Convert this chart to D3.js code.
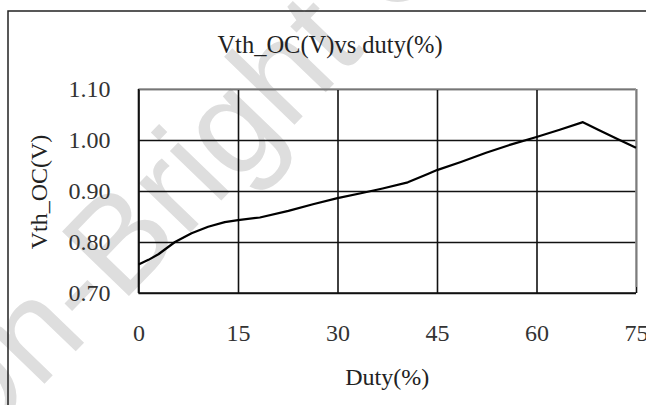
<!DOCTYPE html>
<html>
<head>
<meta charset="utf-8">
<script src="https://cdn.jsdelivr.net/npm/d3@7"></script>
<style>
  html, body { margin: 0; padding: 0; background: #fff; }
  svg { display: block; }
  text { font-family: "Liberation Serif", "Times New Roman", serif; fill: #222; }
</style>
</head>
<body>
<svg id="chart" width="646" height="405"></svg>
<script>
// ---- data ----
const duty = [0, 1.5, 3, 5.5, 8, 10.5, 13, 15, 18.3, 22.6, 26.3, 30, 33.7, 36.8, 40.6, 43.7, 45, 48.6, 52.4, 56.1, 60, 63.5, 67, 69.3, 72.2, 75];
const vth  = [0.756, 0.765, 0.776, 0.800, 0.817, 0.830, 0.839, 0.843, 0.848, 0.861, 0.874, 0.886, 0.896, 0.905, 0.917, 0.934, 0.941, 0.957, 0.975, 0.991, 1.006, 1.020, 1.035, 1.020, 1.002, 0.985];
const xTicks = [0, 15, 30, 45, 60, 75];
const yTicks = [0.70, 0.80, 0.90, 1.00, 1.10];
const titleText = "Vth_OC(V)vs duty(%)";
const xTitle = "Duty(%)";
const yTitle = "Vth_OC(V)";
const watermark = "On-Bright Confidential";

// ---- layout ----
const svg = d3.select("#chart");
const pL = 138.5, pR = 636, pT = 89, pB = 293;
const x = d3.scaleLinear().domain([0, 75]).range([pL, pR]);
const y = d3.scaleLinear().domain([0.7, 1.1]).range([pB, pT]);

// watermark (behind)
svg.append("text")
  .attr("transform", "translate(-35,466) rotate(-46)")
  .style("font-family", "'Liberation Sans', Arial, sans-serif")
  .style("font-size", "135px")
  .style("fill", "#dedede")
  .text(watermark);

// outer frame
svg.append("rect")
  .attr("x", 8).attr("y", 11)
  .attr("width", 700).attr("height", 500)
  .attr("fill", "none").attr("stroke", "#222").attr("stroke-width", 1.5);

// grid + axes
const yAxis = d3.axisLeft(y).tickValues(yTicks).tickFormat(d3.format(".2f"))
  .tickSize(-(pR - pL)).tickPadding(28);
const gy = svg.append("g").attr("transform", `translate(${pL},0)`).call(yAxis);
gy.select(".domain").remove();
gy.selectAll("line").attr("stroke", "#111").attr("stroke-width", 1.6);
gy.selectAll("text").style("font-size", "24px").style("fill", "#333")
  .attr("font-family", null);

const xAxis = d3.axisBottom(x).tickValues(xTicks).tickFormat(d3.format("d"))
  .tickSize(-(pB - pT)).tickPadding(31);
const gx = svg.append("g").attr("transform", `translate(0,${pB})`).call(xAxis);
gx.select(".domain").remove();
gx.selectAll("line").attr("stroke", "#111").attr("stroke-width", 1.6);
gx.selectAll("text").style("font-size", "24px").style("fill", "#333")
  .attr("font-family", null);

// top and right borders (gray), left and bottom (black)
svg.append("line").attr("x1", x(0)).attr("x2", x(75)).attr("y1", y(1.1)).attr("y2", y(1.1))
  .attr("stroke", "#999").attr("stroke-width", 1.6);
svg.append("line").attr("x1", x(75)).attr("x2", x(75)).attr("y1", y(1.1)).attr("y2", y(0.7) - 6)
  .attr("stroke", "#999").attr("stroke-width", 1.6);
svg.append("line").attr("x1", x(0)).attr("x2", x(75)).attr("y1", y(0.7)).attr("y2", y(0.7))
  .attr("stroke", "#111").attr("stroke-width", 1.6);
svg.append("line").attr("x1", x(0)).attr("x2", x(0)).attr("y1", y(1.1)).attr("y2", y(0.7))
  .attr("stroke", "#111").attr("stroke-width", 1.6);

// data line
const line = d3.line().x((d, i) => x(duty[i])).y((d, i) => y(vth[i])).curve(d3.curveLinear);
svg.append("path").datum(vth).attr("d", line)
  .attr("fill", "none").attr("stroke", "#000").attr("stroke-width", 2.2)
  .attr("stroke-linejoin", "round");

// titles
svg.append("text").attr("x", 330).attr("y", 53).attr("text-anchor", "middle")
  .style("font-size", "24.5px").text(titleText);
svg.append("text").attr("x", (pL + pR) / 2).attr("y", 385).attr("text-anchor", "middle")
  .style("font-size", "24px").text(xTitle);
svg.append("text").attr("transform", "translate(47,192) rotate(-90)").attr("text-anchor", "middle")
  .style("font-size", "24px").text(yTitle);
</script>
</body>
</html>
